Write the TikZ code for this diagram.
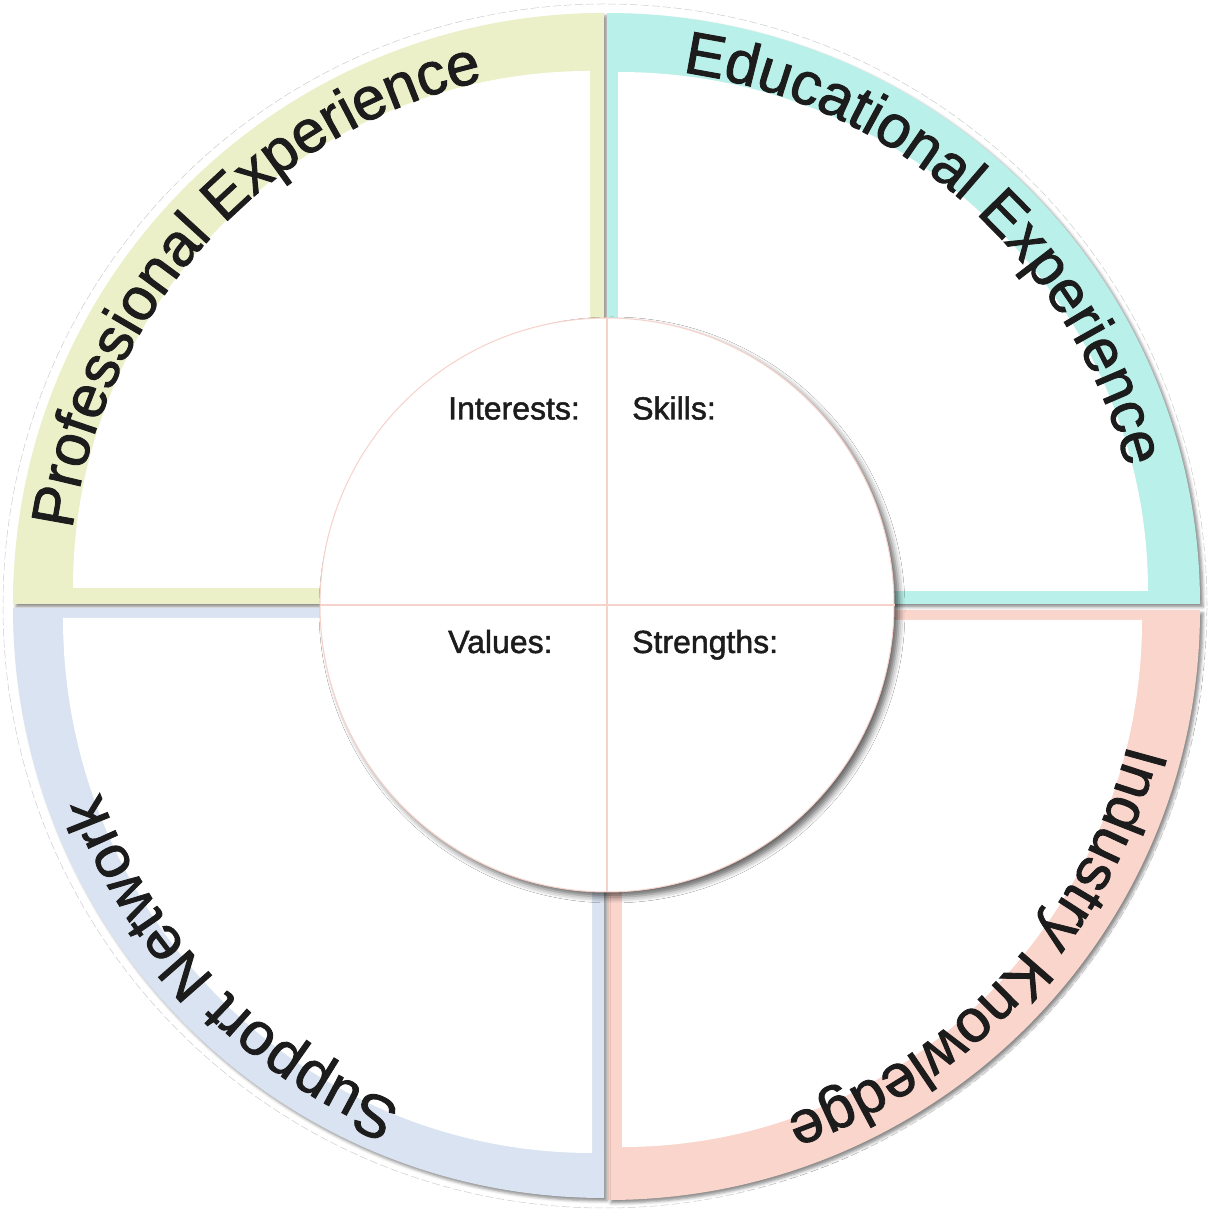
\documentclass[tikz,border=0pt]{standalone}
\usepackage{fontspec}
\setmainfont{Liberation Sans}[FakeBold=1.5]
\usetikzlibrary{decorations.text,shadows.blur}
\definecolor{tlc}{HTML}{EBF0C8}
\definecolor{trc}{HTML}{BAF0EA}
\definecolor{brc}{HTML}{FAD5CC}
\definecolor{blc}{HTML}{D9E3F1}
\definecolor{linec}{HTML}{F7D2CA}
\definecolor{inkc}{HTML}{1C1C1C}
\newcommand\arcfnt{\fontsize{60}{72}\selectfont}
\tikzset{
  qshadow/.style={blur shadow={shadow xshift=3pt, shadow yshift=-3pt, shadow blur radius=3pt, shadow opacity=45}},
  arctext/.style={decorate, decoration={text along path, text align=center, text color=inkc, text={|\arcfnt|#1}}},
  lbl/.style={font=\fontsize{32}{38}\selectfont, inner sep=0pt, text=inkc},
  divider/.style={draw=linec, line width=1.2pt}
}
\begin{document}
\begin{tikzpicture}[x=1pt,y=1pt]
\useasboundingbox (0,0) rectangle (1209,1211);
% faint outer ring
\draw[gray!40, line width=0.5pt, dash pattern=on 8pt off 3pt] (605,605) circle[radius=602];
% quadrants
\fill[tlc,qshadow] (604,607) -- (13,607) arc[start angle=180,end angle=90,radius=591] -- cycle;
\fill[trc,qshadow] (607,607) -- (607,1198) arc[start angle=90,end angle=0,x radius=593,y radius=591] -- cycle;
\fill[brc,qshadow] (608,601) -- (1200,601) arc[start angle=0,end angle=-90,x radius=592,y radius=590] -- cycle;
\fill[blc,qshadow] (604,603) -- (604,13) arc[start angle=270,end angle=180,x radius=591,y radius=590] -- cycle;
% white inner regions
\fill[white] (590,623) -- (73,623) arc[start angle=180,end angle=90,radius=517] -- cycle;
\fill[white] (618,620) -- (618,1139) arc[start angle=90,end angle=0,x radius=530,y radius=519] -- cycle;
\fill[white] (622,591) -- (1142,591) arc[start angle=0,end angle=-90,x radius=520,y radius=527] -- cycle;
\fill[white] (592,593) -- (592,58) arc[start angle=270,end angle=180,x radius=529,y radius=535] -- cycle;
% curved titles
\path[arctext={Professional Experience}] (604,607) ++(207.5:537) arc[start angle=207.5,end angle=67.5,radius=537];
\path[arctext={Educational Experience}] (607,607) ++(118.3:537) arc[start angle=118.3,end angle=-21.7,radius=537];
\path[arctext={Industry Knowledge}] (608,601) ++(27.4:537) arc[start angle=27.4,end angle=-112.6,radius=537];
\path[arctext={Support Network}] (604,603) ++(-66:537) arc[start angle=-66,end angle=-206,radius=537];
% center circle
\node[circle, minimum size=574pt, inner sep=0pt, fill=white, draw=linec, line width=1pt,
  blur shadow={shadow xshift=5pt, shadow yshift=-5pt, shadow blur radius=6pt, shadow opacity=60}] (core) at (607,606) {};
\draw[divider] (core.north) -- (core.south);
\draw[divider] (core.west) -- (core.east);
% labels
\node[lbl, anchor=base west] (interests) at (448,791.5) {Interests:};
\node[lbl, anchor=base west] (skills) at (632,791.5) {Skills:};
\node[lbl, anchor=base west] (values) at (448,558) {Values:};
\node[lbl, anchor=base west] (strengths) at (632,558) {Strengths:};
\end{tikzpicture}
\end{document}
